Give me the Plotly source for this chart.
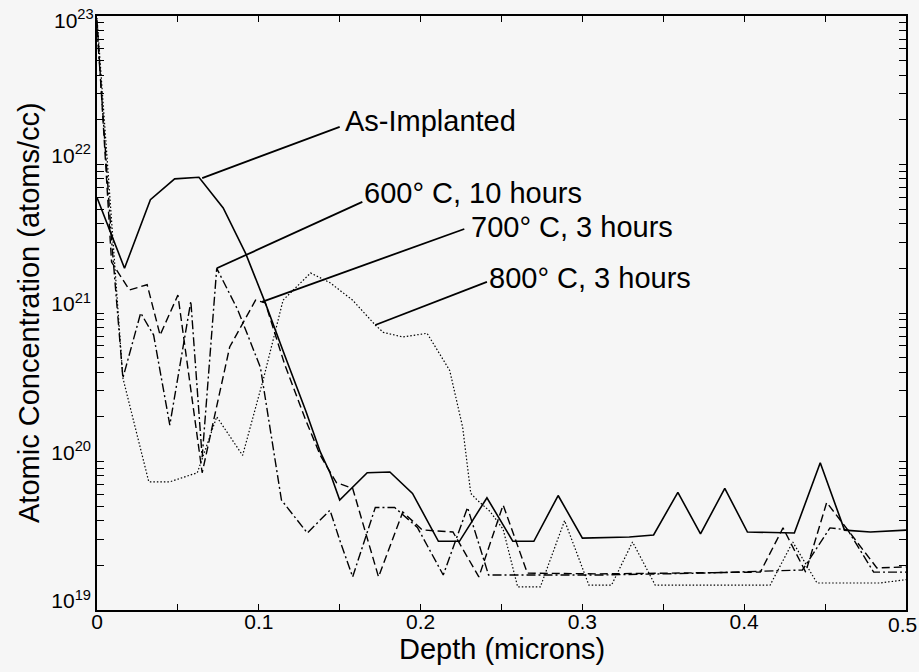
import plotly.graph_objects as go
import math

# ---- data (depth in microns, concentration in atoms/cc) ----
depth_as = [0, 0.017, 0.033, 0.048, 0.063, 0.078, 0.092, 0.104, 0.116, 0.129, 0.138, 0.144, 0.150,
            0.167, 0.181, 0.195, 0.211, 0.224, 0.241, 0.257, 0.270, 0.285, 0.300, 0.329, 0.344,
            0.359, 0.373, 0.388, 0.402, 0.431, 0.447, 0.462, 0.478, 0.500]
conc_as = [6.0e21, 2.0e21, 5.8e21, 8.0e21, 8.2e21, 5.1e21, 2.5e21, 1.17e21, 5.2e20, 2.2e20, 1.16e20,
           8.4e19, 5.5e19, 8.4e19, 8.5e19, 6.1e19, 2.9e19, 2.9e19, 5.7e19, 2.9e19, 2.9e19, 5.9e19,
           3.05e19, 3.1e19, 3.2e19, 6.2e19, 3.25e19, 6.6e19, 3.35e19, 3.3e19, 9.8e19, 3.45e19,
           3.35e19, 3.45e19]

depth_600 = [0, 0.009, 0.016, 0.027, 0.035, 0.045, 0.058, 0.065, 0.074, 0.087, 0.101, 0.114, 0.130,
             0.144, 0.150, 0.158, 0.172, 0.184, 0.198, 0.214, 0.229, 0.242, 0.311, 0.373, 0.436,
             0.453, 0.464, 0.480, 0.500]
conc_600 = [8.3e22, 3.1e21, 3.65e20, 1.0e21, 7.1e20, 1.76e20, 1.2e21, 1.07e20, 2.0e21, 1.05e21,
            4.3e20, 5.5e19, 3.3e19, 4.7e19, 2.96e19, 1.67e19, 4.9e19, 4.9e19, 3.6e19, 1.72e19,
            4.9e19, 1.72e19, 1.72e19, 1.77e19, 1.86e19, 3.57e19, 3.46e19, 1.8e19, 1.8e19]

depth_700 = [0, 0.009, 0.020, 0.031, 0.039, 0.050, 0.065, 0.082, 0.098, 0.104, 0.116, 0.129, 0.138,
             0.148, 0.158, 0.174, 0.189, 0.201, 0.220, 0.236, 0.251, 0.266, 0.311, 0.410, 0.424,
             0.438, 0.451, 0.482, 0.500]
conc_700 = [9.4e22, 2.2e21, 1.43e21, 1.55e21, 7.1e20, 1.32e21, 8.4e19, 5.9e20, 1.22e21, 1.17e21,
            4.5e20, 1.9e20, 1.1e20, 7.2e19, 6.6e19, 1.67e19, 4.57e19, 3.46e19, 3.35e19, 1.67e19,
            5.1e19, 1.77e19, 1.75e19, 1.8e19, 3.57e19, 1.8e19, 5.3e19, 1.92e19, 1.95e19]

depth_800 = [0, 0.016, 0.032, 0.045, 0.062, 0.074, 0.090, 0.103, 0.115, 0.132, 0.144, 0.158, 0.172,
             0.177, 0.189, 0.204, 0.218, 0.226, 0.231, 0.235, 0.243, 0.251, 0.260, 0.274, 0.289,
             0.304, 0.318, 0.331, 0.345, 0.416, 0.430, 0.445, 0.484, 0.500]
conc_800 = [9.7e22, 3.65e20, 7.3e19, 7.3e19, 8.4e19, 2.0e20, 1.1e20, 3.65e20, 1.22e21, 1.86e21,
            1.6e21, 1.22e21, 8.3e20, 7.4e20, 6.9e20, 7.3e20, 4.1e20, 1.7e20, 6.1e19, 5.5e19,
            4.6e19, 3.5e19, 1.43e19, 1.43e19, 4.0e19, 1.47e19, 1.47e19, 2.87e19, 1.47e19,
            1.47e19, 2.87e19, 1.52e19, 1.52e19, 1.6e19]

series_names = ["As-Implanted", "600° C, 10 hours", "700° C, 3 hours", "800° C, 3 hours"]

# label leader lines: (curve point) -> (label point), and label anchor
leader_start = [(0.065, 8.1e21), (0.074, 2.0e21), (0.102, 1.19e21), (0.172, 8.3e20)]
leader_end = [(0.150, 1.79e22), (0.164, 5.6e21), (0.227, 3.68e21), (0.241, 1.62e21)]
label_pos = [(0.152, 1.95e22), (0.164, 6.4e21), (0.230, 3.8e21), (0.241, 1.72e21)]

x_ticks = [0, 0.05, 0.1, 0.15, 0.2, 0.25, 0.3, 0.35, 0.4, 0.45, 0.5]
x_ticktext = ["0", "", "0.1", "", "0.2", "", "0.3", "", "0.4", "", "0.5"]
decades = [19, 20, 21, 22, 23]

BG = "#f6f6f6"
tickfont = dict(family="Liberation Sans Narrow, Arial Narrow, Liberation Sans, Arial", size=21, color="black")
labfont = dict(family="Liberation Sans, Arial, Helvetica", size=29, color="black")

fig = go.Figure()
styles = [
    dict(color="black", width=1.6, dash="solid"),
    dict(color="black", width=1.4, dash="9px,3px,2px,3px"),
    dict(color="black", width=1.4, dash="8px,4px"),
    dict(color="black", width=1.2, dash="1.5px,2px"),
]
data = [(depth_as, conc_as), (depth_600, conc_600), (depth_700, conc_700), (depth_800, conc_800)]
for (xs, ys), st, nm in zip(data, styles, series_names):
    fig.add_trace(go.Scatter(x=xs, y=ys, mode="lines", line=st, name=nm, showlegend=False))

# y ticks: decades labelled (top decade labelled separately so it stays inside the page), minors blank
yvals, ytext = [], []
for e in decades:
    yvals.append(10.0 ** e)
    ytext.append("10<sup>%d</sup>" % e if e < decades[-1] else "")
    if e < decades[-1]:
        for m in range(2, 10):
            yvals.append(m * 10.0 ** e)
            ytext.append("")

fig.add_annotation(x=0, y=1, xref="paper", yref="paper", text="10<sup>%d</sup>" % decades[-1],
                   showarrow=False, xanchor="right", yanchor="middle", xshift=-1, yshift=-3,
                   font=tickfont)

# last x tick label drawn separately, nudged left so it stays inside the page
fig.add_annotation(x=x_ticks[-1], y=0, xref="x", yref="paper", text=x_ticktext[-1],
                   showarrow=False, xanchor="center", yanchor="top", xshift=-4, yshift=-1,
                   font=tickfont)
x_ticktext_axis = x_ticktext[:-1] + [""]

for (x0, y0), (x1, y1), (lx, ly), nm in zip(leader_start, leader_end, label_pos, series_names):
    fig.add_shape(type="line", xref="x", yref="y", x0=x0, y0=y0, x1=x1, y1=y1,
                  line=dict(color="black", width=1.8))
    fig.add_annotation(x=lx, y=math.log10(ly), xref="x", yref="y", text=nm, showarrow=False,
                       xanchor="left", yanchor="middle", font=labfont)

fig.add_annotation(x=0.5, y=0, xref="paper", yref="paper", text="Depth (microns)", showarrow=False,
                   xanchor="center", yanchor="top", yshift=-21, font=labfont)
fig.add_annotation(x=0, y=0.5, xref="paper", yref="paper", text="Atomic Concentration (atoms/cc)",
                   showarrow=False, textangle=-90, xanchor="right", yanchor="middle", xshift=-50,
                   font=dict(family="Liberation Sans, Arial", size=29, color="black"))

fig.update_layout(
    width=919, height=672,
    margin=dict(l=97, r=13, t=16, b=62, autoexpand=False),
    paper_bgcolor=BG, plot_bgcolor=BG,
    xaxis=dict(range=[0, 0.5], tickvals=x_ticks, ticktext=x_ticktext_axis, ticks="inside", ticklen=6,
               tickcolor="black", showline=True, linecolor="black", linewidth=1.5, mirror="ticks",
               showgrid=False, zeroline=False, tickfont=tickfont, ticklabeloverflow="allow",
               ticklabelstandoff=-8, automargin=False),
    yaxis=dict(type="log", range=[18.9999, 23.0001], tickvals=yvals, ticktext=ytext, ticks="inside",
               ticklen=7, tickcolor="black", showline=True, linecolor="black", linewidth=1.5,
               mirror="ticks", showgrid=False, zeroline=False, tickfont=tickfont,
               ticklabeloverflow="allow", ticklabelshift=-9, automargin=False),
)

fig.write_html("out.html")
